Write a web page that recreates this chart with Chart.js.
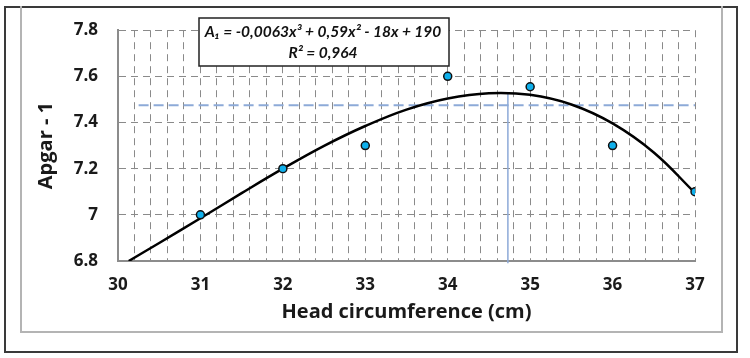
<!DOCTYPE html>
<html>
<head>
<meta charset="utf-8">
<script src="https://cdn.jsdelivr.net/npm/chart.js@4/dist/chart.umd.min.js"></script>
<style>
  body { margin: 0; background: #fff; }
  #wrap { position: relative; width: 750px; height: 358px; }
  .outer { position: absolute; left: 4px; top: 6px; width: 734px; height: 347px; box-sizing: border-box; border: 2px solid #3a3a3a; }
  .inner { position: absolute; left: 20px; top: 6px; width: 703px; height: 327px; box-sizing: border-box; border: 2px solid #b4b4b4; border-top: none; }
  canvas { position: absolute; left: 0; top: 0; }
</style>
</head>
<body>
<div id="wrap">
  <div class="outer"></div>
  <div class="inner"></div>
  <canvas id="chart" width="750" height="358"></canvas>
</div>
<script>
// measured points
var headCirc = [31, 32, 33, 34, 35, 36, 37];
var apgar = [7.0, 7.2, 7.3, 7.6, 7.555, 7.3, 7.1];

// trend curve
var curveX = [30.13, 30.5, 31, 31.5, 32, 32.5, 33, 33.5, 34, 34.5, 35, 35.5, 36, 36.5, 37];
var curveY = [6.80, 6.878, 6.985, 7.094, 7.20, 7.299, 7.385, 7.456, 7.504, 7.527, 7.52, 7.478, 7.396, 7.27, 7.095];

// blue guide lines
var guideX = [30.25, 37.05];
var guideY = 7.475;
var peakX = 34.73;
var peakY = [7.525, 6.79];

var xTitle = 'Head circumference (cm)';
var yTitle = 'Apgar - 1';
var eqLine1 = 'A\u2081 = -0,0063x\u00b3 + 0,59x\u00b2 - 18x + 190';
var eqLine2 = 'R\u00b2 = 0,964';

var toXY = (xs, ys) => xs.map((x, i) => ({x: x, y: Array.isArray(ys) ? ys[i] : ys}));

var equationBox = {
  id: 'equationBox',
  afterDraw: (chart) => {
    var ctx = chart.ctx;
    ctx.save();
    ctx.fillStyle = '#fff';
    ctx.fillRect(199, 18, 250, 48);
    ctx.lineWidth = 1.5;
    ctx.strokeStyle = '#222';
    ctx.strokeRect(199, 18, 250, 48);
    ctx.fillStyle = '#111';
    ctx.font = 'italic bold 15.5px Lato, "Open Sans", sans-serif';
    ctx.textAlign = 'center';
    ctx.textBaseline = 'middle';
    ctx.fillText(eqLine1, 323, 32);
    ctx.fillText(eqLine2, 323, 53);
    ctx.restore();
  }
};

var gridGray = '#8a8a8a';
var axisGray = '#8c8c8c';
var guideBlue = 'rgb(141, 170, 216)';
var tickFont = { family: '"Open Sans"', size: 17, weight: 'bold' };
var titleFont = { family: '"Open Sans"', size: 20, weight: 'bold' };

new Chart(document.getElementById('chart'), {
  type: 'scatter',
  data: {
    datasets: [
      {
        data: toXY(headCirc, apgar),
        backgroundColor: '#0fb0ec',
        borderColor: '#111',
        borderWidth: 1.5,
        pointRadius: 4,
        order: 0
      },
      {
        data: toXY(curveX, curveY),
        showLine: true,
        borderColor: '#000',
        borderWidth: 2.5,
        pointRadius: 0,
        tension: 0.4,
        order: 1
      },
      {
        data: toXY(guideX, guideY),
        showLine: true,
        borderColor: guideBlue,
        borderWidth: 2,
        borderDash: [10, 5],
        pointRadius: 0,
        order: 2
      },
      {
        data: toXY([peakX, peakX], peakY),
        showLine: true,
        borderColor: guideBlue,
        borderWidth: 1.5,
        pointRadius: 0,
        clip: false,
        order: 2
      }
    ]
  },
  options: {
    responsive: false,
    animation: false,
    events: [],
    layout: { padding: { left: 30, top: 21, right: 55, bottom: 30 } },
    plugins: { legend: { display: false }, tooltip: { enabled: false } },
    scales: {
      x: {
        type: 'linear',
        min: 30,
        max: 37,
        afterFit: (scale) => { scale.height = 67; },
        border: { display: true, color: axisGray, width: 2, dash: [7, 5] },
        grid: { color: gridGray, lineWidth: 1, drawTicks: false },
        ticks: {
          stepSize: 0.2,
          autoSkip: false,
          maxRotation: 0,
          padding: 14,
          color: '#1a1a1a',
          font: tickFont,
          callback: (v) => Math.abs(v - Math.round(v)) < 1e-6 ? String(Math.round(v)) : ''
        },
        title: { display: true, text: xTitle, color: '#1a1a1a', font: titleFont }
      },
      y: {
        min: 6.8,
        max: 7.8,
        afterFit: (scale) => { scale.width = 88; },
        border: { display: true, color: axisGray, width: 2, dash: [7, 5] },
        grid: { color: gridGray, lineWidth: 1, drawTicks: false },
        ticks: {
          stepSize: 0.2,
          padding: 20,
          color: '#1a1a1a',
          font: tickFont,
          callback: (v) => String(Math.round(v * 10) / 10)
        },
        title: { display: true, text: yTitle, color: '#1a1a1a', font: titleFont }
      }
    }
  },
  plugins: [equationBox]
});
</script>
</body>
</html>
